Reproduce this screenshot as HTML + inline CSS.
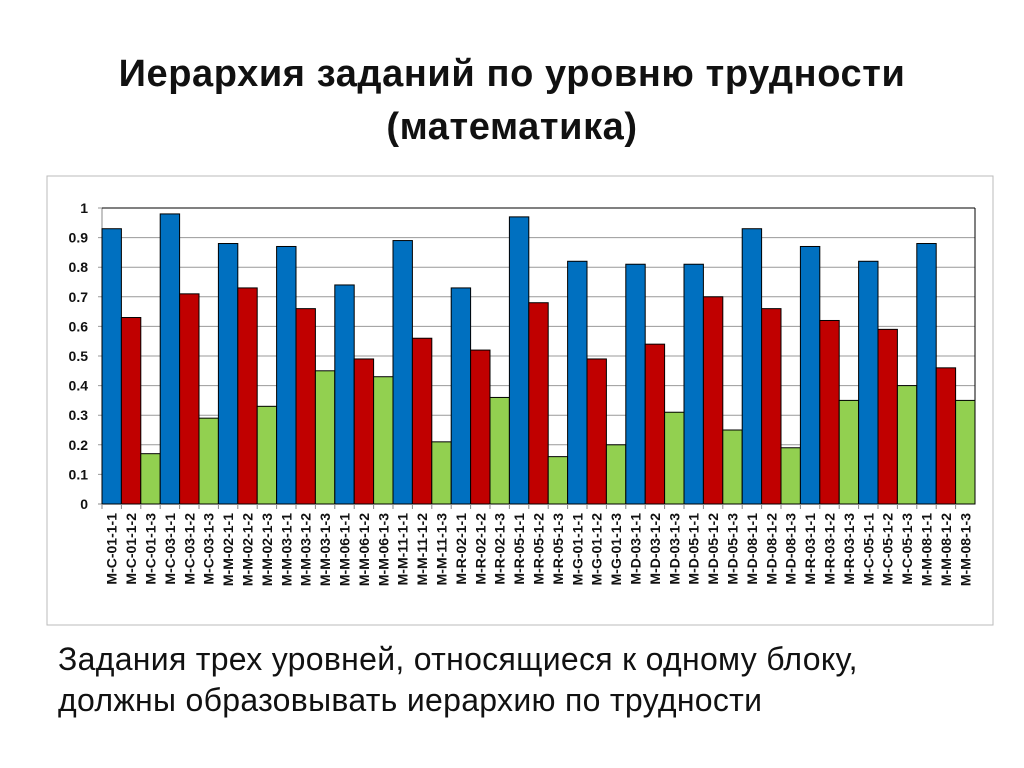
<!DOCTYPE html>
<html><head><meta charset="utf-8"><style>
body{margin:0;width:1024px;height:768px;background:#fff;font-family:"Liberation Sans",sans-serif;position:relative;overflow:hidden}
h1{position:absolute;left:0;width:1024px;top:48px;margin:0;text-align:center;font-size:38px;letter-spacing:0.6px;font-weight:bold;line-height:53px;color:#111}
#cap{position:absolute;left:58px;top:639px;font-size:32px;letter-spacing:0.3px;line-height:41px;color:#111}
</style></head><body>
<h1>Иерархия заданий по уровню трудности<br>(математика)</h1>
<svg width="1024" height="768" style="position:absolute;left:0;top:0">
<rect x="47" y="176" width="946" height="449" fill="#fff" stroke="#bbb"/>
<g id="g"></g>
</svg>
<div id="cap">Задания трех уровней, относящиеся к одному блоку,<br>должны образовывать иерархию по трудности</div>
<script>
const groups=["M-C-01","M-C-03","M-M-02","M-M-03","M-M-06","M-M-11","M-R-02","M-R-05","M-G-01","M-D-03","M-D-05","M-D-08","M-R-03","M-C-05","M-M-08"];
const level1=[.93,.98,.88,.87,.74,.89,.73,.97,.82,.81,.81,.93,.87,.82,.88];
const level2=[.63,.71,.73,.66,.49,.56,.52,.68,.49,.54,.70,.66,.62,.59,.46];
const level3=[.17,.29,.33,.45,.43,.21,.36,.16,.20,.31,.25,.19,.35,.40,.35];
const ticks=[0,0.1,0.2,0.3,0.4,0.5,0.6,0.7,0.8,0.9,1];
const X0=102,X1=975,Y0=504,Y1=208;
const n=groups.length*3,bw=(X1-X0)/n;
const y=v=>Y0-(Y0-Y1)*v, x=i=>X0+i*bw;
const g=document.getElementById('g'),NS='http://www.w3.org/2000/svg';
function mk(t,a){const e=document.createElementNS(NS,t);for(const k in a)e.setAttribute(k,a[k]);g.appendChild(e);return e;}
ticks.forEach(t=>{
 const l=mk('line',{x1:X0-4,x2:X1,y1:y(t),y2:y(t),stroke:t===0?'#888':'#999'});
 
 
 const tx=mk('text',{x:X0-14,y:y(t)+5,'text-anchor':'end','font-size':14,'font-weight':'bold',fill:'#111'});
 tx.textContent=String(t);
 
 
});
mk('line',{x1:X0,x2:X0,y1:Y1,y2:Y0,stroke:'#888'});
mk('line',{x1:X0,x2:X1,y1:Y1,y2:Y1,stroke:'#000'});
mk('line',{x1:X1,x2:X1,y1:Y1,y2:Y0,stroke:'#000'});
const series=[level1,level2,level3],cols=['#0070C0','#C00000','#92D050'];
groups.forEach((gname,gi)=>{
 series.forEach((s,si)=>{
  const i=gi*3+si;
  const r=mk('rect',{x:x(i),y:y(s[gi]),width:bw,height:Y0-y(s[gi]),fill:cols[si],stroke:'#000','stroke-width':1});
  
  
  const cx=x(i)+bw/2;
  mk('line',{x1:x(i),x2:x(i),y1:Y0,y2:Y0+5,stroke:'#888'});
  const t=mk('text',{x:0,y:0,transform:`translate(${cx+5},${Y0+9}) rotate(-90)`,'text-anchor':'end','font-size':14,'font-weight':'bold',fill:'#111'});
  t.textContent=gname+'-1-'+(si+1);
  
  
 });
});
</script>
</body></html>
